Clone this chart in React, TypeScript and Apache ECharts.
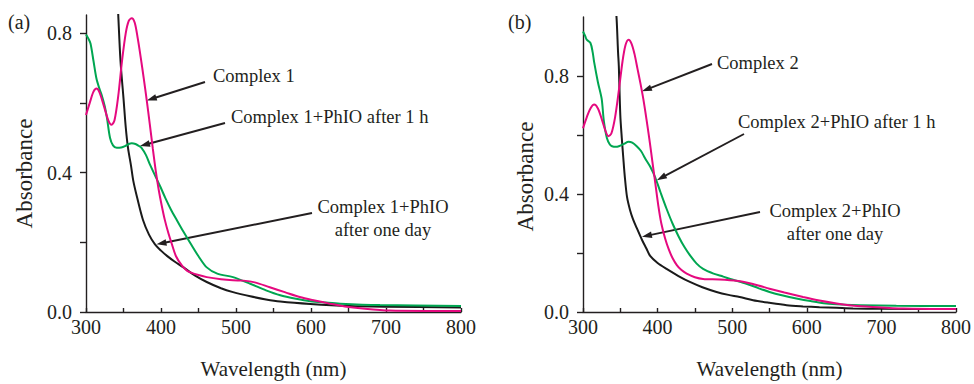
import React, { useEffect, useRef } from "react";
import * as echarts from "echarts";

// ---------- data ----------
const panelLabels = ["(a)", "(b)"];
const xAxisTitle = "Wavelength (nm)";
const yAxisTitle = "Absorbance";
const xTickValues = [300, 350, 400, 450, 500, 550, 600, 650, 700, 750, 800];
const xTickLabels = [300, 400, 500, 600, 700, 800];
const yTickValues = [0, 0.2, 0.4, 0.6, 0.8];
const yTickLabels = [0, 0.4, 0.8];
const yMaxA = 0.852;
const yMaxB = 1.0;

// Panel (a)
const aComplexWl = [300,305,310,314,318,324,330,334,338,343,348,353,357,361,365,369,373,377,381,385,389,393,397,401,405,410,414,420,428,435,440,450,461,480,496,510,525,545,565,585,605,625,645,669,705,750,800];
const aComplexAbs = [0.565,0.6,0.632,0.641,0.63,0.59,0.548,0.537,0.55,0.62,0.72,0.8,0.835,0.843,0.83,0.785,0.73,0.67,0.607,0.54,0.47,0.405,0.35,0.305,0.265,0.225,0.198,0.16,0.133,0.118,0.113,0.106,0.1,0.094,0.091,0.09,0.085,0.071,0.057,0.043,0.033,0.024,0.016,0.01,0.004,0.003,0.003];
const aHourWl = [300,303,306,310,314,318,321,325,328,332,336,341,347,352,357,361,366,370,374,380,385,392,399,406,413,421,430,439,450,461,475,496,519,540,559,580,599,620,639,692,800];
const aHourAbs = [0.796,0.785,0.77,0.72,0.669,0.64,0.622,0.59,0.556,0.5,0.478,0.471,0.472,0.476,0.482,0.484,0.482,0.477,0.471,0.45,0.424,0.392,0.36,0.326,0.295,0.264,0.23,0.198,0.16,0.128,0.11,0.1,0.081,0.062,0.048,0.038,0.031,0.027,0.024,0.02,0.017];
const aDayWl = [338,341,343,346,350,353,356,360,363,368,376,384,392,400,408,418,430,445,461,480,496,519,540,559,599,652,700,800];
const aDayAbs = [1.1,0.95,0.852,0.72,0.613,0.53,0.471,0.42,0.377,0.33,0.264,0.222,0.194,0.176,0.161,0.145,0.128,0.105,0.086,0.068,0.057,0.045,0.036,0.03,0.023,0.017,0.015,0.013];

// Panel (b)
const bComplexWl = [300,305,310,315,320,325,330,334,338,343,348,353,357,361,365,369,373,377,381,385,389,393,397,401,405,410,415,420,426,432,439,450,461,483,508,519,535,550,570,595,615,640,660,684,729,800];
const bComplexAbs = [0.623,0.66,0.69,0.703,0.69,0.655,0.615,0.596,0.605,0.66,0.75,0.85,0.905,0.923,0.91,0.875,0.825,0.775,0.72,0.655,0.585,0.51,0.435,0.36,0.3,0.25,0.212,0.183,0.158,0.142,0.13,0.118,0.112,0.11,0.105,0.1,0.09,0.079,0.066,0.051,0.04,0.029,0.022,0.018,0.012,0.01];
const bHourWl = [300,303,305,310,313,315,320,325,328,332,336,339,344,348,355,361,366,372,378,383,390,397,404,412,420,428,436,444,452,461,475,488,500,519,535,550,568,586,605,626,650,671,720,800];
const bHourAbs = [0.951,0.935,0.923,0.912,0.88,0.846,0.779,0.723,0.646,0.59,0.568,0.562,0.56,0.562,0.57,0.577,0.574,0.562,0.545,0.522,0.493,0.455,0.405,0.35,0.3,0.257,0.22,0.19,0.165,0.146,0.13,0.12,0.11,0.096,0.081,0.068,0.056,0.046,0.037,0.029,0.025,0.023,0.021,0.02];
const bDayWl = [342,345,347,348,350,352,354,356,359,363,367,372,379,385,390,400,412,428,444,460,479,495,510,528,550,573,595,617,640,662,700,800];
const bDayAbs = [1.1,0.996,0.88,0.834,0.668,0.59,0.523,0.46,0.39,0.346,0.315,0.285,0.245,0.215,0.19,0.166,0.146,0.122,0.101,0.084,0.068,0.058,0.051,0.04,0.031,0.023,0.019,0.016,0.014,0.012,0.011,0.01];

// annotation texts and the data points their arrows point at
const annotationTexts = [
  ["Complex 1"],
  ["Complex 1+PhIO after 1 h"],
  ["Complex 1+PhIO", "after one day"],
  ["Complex 2"],
  ["Complex 2+PhIO after 1 h"],
  ["Complex 2+PhIO", "after one day"],
];
const annotationTargets = [
  [381, 0.607], [372, 0.476], [394, 0.194],
  [379, 0.748], [399, 0.447], [379, 0.255],
];

// ---------- layout / style ----------
const FONT = "Liberation Serif";
const INK = "#231f20";
const MAGENTA = "#e5097f";
const GREEN = "#00a651";
const BLACK = "#1a1a1a";

const annotationLayout = [
  { grid: 0, tx: 213, ty: 76, align: "left", sx: 205, sy: 82 },
  { grid: 0, tx: 231, ty: 117, align: "left", sx: 225, sy: 123 },
  { grid: 0, tx: 383, ty: 207, align: "center", sx: 312, sy: 213 },
  { grid: 1, tx: 717, ty: 63, align: "left", sx: 712, sy: 64 },
  { grid: 1, tx: 738, ty: 122, align: "left", sx: 744, sy: 134 },
  { grid: 1, tx: 835, ty: 211, align: "center", sx: 760, sy: 212 },
];

const zip = (xs: number[], ys: number[]) => xs.map((x, i) => [x, ys[i]]);

function lineSeries(name: string, idx: number, xs: number[], ys: number[], color: string) {
  return {
    type: "line",
    name,
    xAxisIndex: idx,
    yAxisIndex: idx,
    data: zip(xs, ys),
    showSymbol: false,
    smooth: 0.3,
    clip: true,
    lineStyle: { color, width: 2 },
    itemStyle: { color },
  };
}

function makeXAxis(idx: number) {
  return {
    type: "value",
    gridIndex: idx,
    min: 300,
    max: 800,
    interval: 50,
    name: xAxisTitle,
    nameLocation: "middle",
    nameGap: 46,
    nameTextStyle: { fontFamily: FONT, fontSize: 21, color: INK },
    axisLine: { show: true, lineStyle: { color: INK, width: 1.4 } },
    axisTick: { show: true, inside: true, length: 4, customValues: xTickValues, lineStyle: { color: INK, width: 1.4 } },
    axisLabel: { customValues: xTickLabels, margin: 5, fontFamily: FONT, fontSize: 20, color: INK },
    splitLine: { show: false },
  };
}

function makeYAxis(idx: number, max: number) {
  return {
    type: "value",
    gridIndex: idx,
    min: 0,
    max,
    interval: 0.2,
    name: yAxisTitle,
    nameLocation: "middle",
    nameGap: idx === 0 ? 50 : 46,
    nameTextStyle: {
      fontFamily: FONT,
      fontSize: 23,
      color: INK,
      padding: idx === 0 ? [0, 20, 0, 0] : [0, 24, 0, 0],
    },
    axisLine: { show: true, lineStyle: { color: INK, width: 1.4 } },
    axisTick: { show: true, inside: false, length: 6, customValues: yTickValues, lineStyle: { color: INK, width: 1.4 } },
    axisLabel: {
      customValues: yTickLabels,
      margin: 14,
      fontFamily: FONT,
      fontSize: 20,
      color: INK,
      formatter: (v: number) => v.toFixed(1),
    },
    splitLine: { show: false },
  };
}

function arrow(sx: number, sy: number, tx: number, ty: number) {
  const dx = tx - sx;
  const dy = ty - sy;
  const len = Math.hypot(dx, dy);
  const ux = dx / len;
  const uy = dy / len;
  const nx = -uy;
  const ny = ux;
  const L = 10;
  const W = 3.3;
  const bx = tx - ux * L;
  const by = ty - uy * L;
  return [
    {
      type: "line",
      silent: true,
      shape: { x1: sx, y1: sy, x2: bx + ux * 2, y2: by + uy * 2 },
      style: { stroke: INK, lineWidth: 1.9 },
    },
    {
      type: "polygon",
      silent: true,
      shape: { points: [[tx, ty], [bx + nx * W, by + ny * W], [bx - nx * W, by - ny * W]] },
      style: { fill: INK },
    },
  ];
}

export default function App() {
  const ref = useRef<HTMLDivElement>(null);

  useEffect(() => {
    document.body.style.margin = "0";
    if (!ref.current) return;
    const chart = echarts.init(ref.current, null, { renderer: "svg" });
    chart.setOption({
      animation: false,
      backgroundColor: "#ffffff",
      textStyle: { fontFamily: FONT },
      grid: [
        { left: 86, top: 15, width: 375, height: 302 },
        { left: 583, top: 17, width: 374, height: 300 },
      ],
      xAxis: [makeXAxis(0), makeXAxis(1)],
      yAxis: [makeYAxis(0, yMaxA), makeYAxis(1, yMaxB)],
      series: [
        lineSeries("Complex 1+PhIO after one day", 0, aDayWl, aDayAbs, BLACK),
        lineSeries("Complex 1+PhIO after 1 h", 0, aHourWl, aHourAbs, GREEN),
        lineSeries("Complex 1", 0, aComplexWl, aComplexAbs, MAGENTA),
        lineSeries("Complex 2+PhIO after one day", 1, bDayWl, bDayAbs, BLACK),
        lineSeries("Complex 2+PhIO after 1 h", 1, bHourWl, bHourAbs, GREEN),
        lineSeries("Complex 2", 1, bComplexWl, bComplexAbs, MAGENTA),
      ],
    });

    const graphics: any[] = [];
    graphics.push({
      type: "text", x: 8, y: 22,
      style: { text: panelLabels[0], font: `20px ${FONT}`, fill: INK, textAlign: "left", textVerticalAlign: "middle" },
    });
    graphics.push({
      type: "text", x: 508, y: 22,
      style: { text: panelLabels[1], font: `20px ${FONT}`, fill: INK, textAlign: "left", textVerticalAlign: "middle" },
    });
    annotationLayout.forEach((a, i) => {
      const tip = chart.convertToPixel({ gridIndex: a.grid }, annotationTargets[i]) as number[];
      graphics.push(...arrow(a.sx, a.sy, tip[0], tip[1]));
      annotationTexts[i].forEach((line, j) => {
        graphics.push({
          type: "text",
          x: a.tx,
          y: a.ty + j * 22.6,
          style: {
            text: line,
            font: `18.5px ${FONT}`,
            fill: INK,
            textAlign: a.align,
            textVerticalAlign: "middle",
          },
        });
      });
    });
    chart.setOption({ graphic: graphics });

    return () => chart.dispose();
  }, []);

  return <div ref={ref} style={{ width: 974, height: 384 }} />;
}
